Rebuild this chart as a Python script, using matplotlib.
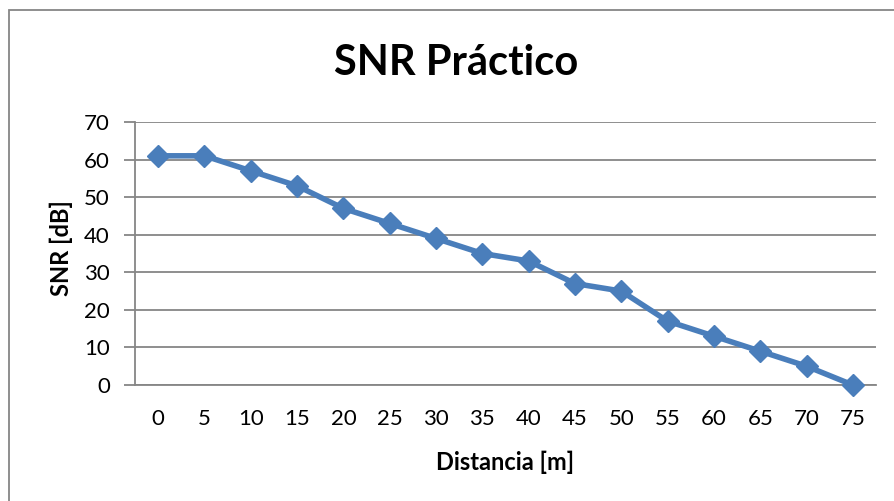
import matplotlib
matplotlib.use("Agg")
import matplotlib.pyplot as plt
from matplotlib.patches import Rectangle

distancia = [0, 5, 10, 15, 20, 25, 30, 35, 40, 45, 50, 55, 60, 65, 70, 75]
snr = [61, 61, 57, 53, 47, 43, 39, 35, 33, 27, 25, 17, 13, 9, 5, 0]
yticks = [0, 10, 20, 30, 40, 50, 60, 70]

plt.rcParams['font.family'] = ['Lato', 'DejaVu Sans']

W, H = 895, 501
fig = plt.figure(figsize=(W / 100, H / 100), dpi=100)
fig.patch.set_facecolor('white')

# outer chart border
fig.patches.append(Rectangle((8.5 / W, -0.05), 1.2, 1 - 10.5 / H + 0.05,
                             transform=fig.transFigure, fill=False,
                             edgecolor='#868686', linewidth=1.3))

left, right = 135 / W, 876 / W
top, bottom = 1 - 122 / H, 1 - 385 / H
ax = fig.add_axes([left, bottom, right - left, top - bottom])

x = list(range(len(distancia)))
ax.plot(x, snr, color='#4a7ebb', linewidth=4, marker='D', markersize=11,
        markeredgecolor='#4a7ebb', markerfacecolor='#4a7ebb', zorder=3,
        clip_on=False)

ax.set_xlim(-0.5, len(distancia) - 0.5)
ax.set_ylim(0, 70)
ax.set_yticks(yticks)
ax.set_yticklabels([str(v) for v in yticks], fontsize=16)
ax.set_xticks(x)
ax.set_xticklabels([str(d) for d in distancia], fontsize=16)

ax.grid(axis='y', color='#868686', linewidth=1.3)
ax.set_axisbelow(True)
for s in ['top', 'right']:
    ax.spines[s].set_visible(False)
ax.spines['left'].set_color('#868686')
ax.spines['left'].set_linewidth(1.3)
ax.spines['bottom'].set_color('#868686')
ax.spines['bottom'].set_linewidth(1.3)
ax.tick_params(axis='y', length=8, width=1.3, color='#868686', pad=10)
ax.tick_params(axis='x', length=0, pad=17)

ax.set_xlabel('Distancia [m]', fontsize=17, fontweight='bold')
ax.set_ylabel('SNR [dB]', fontsize=17, fontweight='bold')
ax.xaxis.label.set_va('center')
ax.xaxis.set_label_coords(0.5, (385 - 462) / 263)
ax.yaxis.label.set_va('center')
ax.yaxis.set_label_coords((61 - 135) / 741, (385 - 248) / 263)

fig.text(456 / W, 1 - 75 / H, 'SNR Práctico', fontsize=30,
         fontweight='bold', ha='center', va='baseline')

fig.savefig('out.png', dpi=100)
